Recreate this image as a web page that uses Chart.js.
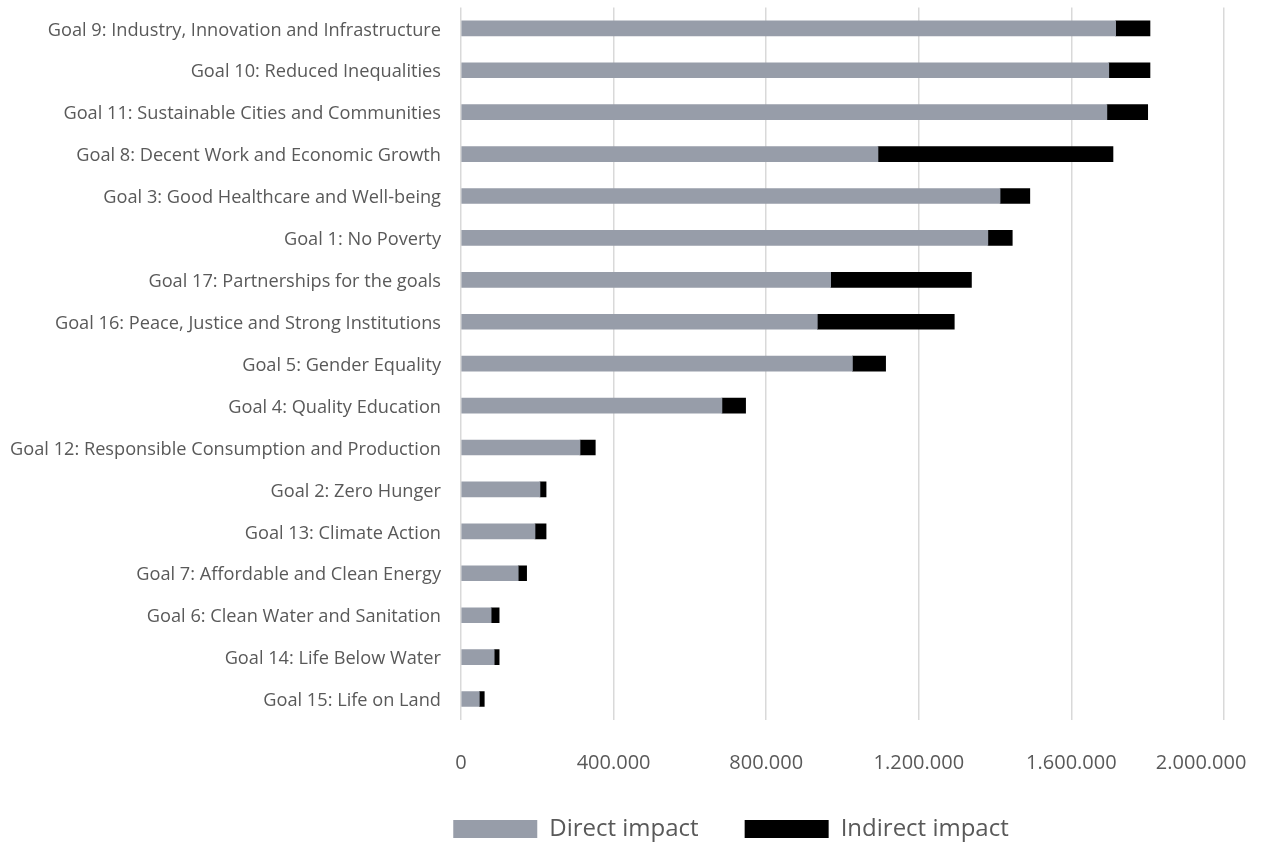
<!DOCTYPE html>
<html>
<head>
<meta charset="utf-8">
<script src="https://cdn.jsdelivr.net/npm/chart.js@4.4.0/dist/chart.umd.min.js"></script>
<style>
  html, body { margin: 0; padding: 0; background: #ffffff; overflow: hidden; }
  #wrap { width: 1268px; height: 845px; position: relative; }
</style>
</head>
<body>
<div id="wrap"><canvas id="c"></canvas></div>
<script>
const categories = [
  "Goal 9: Industry, Innovation and Infrastructure",
  "Goal 10: Reduced Inequalities",
  "Goal 11: Sustainable Cities and Communities",
  "Goal 8: Decent Work and Economic Growth",
  "Goal 3: Good Healthcare and Well-being",
  "Goal 1: No Poverty",
  "Goal 17: Partnerships for the goals",
  "Goal 16: Peace, Justice and Strong Institutions",
  "Goal 5: Gender Equality",
  "Goal 4: Quality Education",
  "Goal 12: Responsible Consumption and Production",
  "Goal 2: Zero Hunger",
  "Goal 13: Climate Action",
  "Goal 7: Affordable and Clean Energy",
  "Goal 6: Clean Water and Sanitation",
  "Goal 14: Life Below Water",
  "Goal 15: Life on Land"
];
const directImpact = [1716000, 1698000, 1693000, 1093000, 1413000, 1381000, 969000, 934000, 1026000, 684000, 312000, 207000, 194000, 150000, 79000, 87000, 48000];
const indirectImpact = [90000, 108000, 107000, 616000, 78000, 64000, 369000, 359000, 87000, 62000, 40000, 16000, 29000, 22000, 21000, 13000, 13000];
const seriesNames = ["Direct impact", "Indirect impact"];
const xTicks = { min: 0, max: 2000000, step: 400000 };

function fmt(v) {
  return String(Math.round(v)).replace(/\B(?=(\d{3})+(?!\d))/g, ".");
}

const FONT = "'Open Sans', 'Noto Sans', sans-serif";
const TXT = "#595959";

const layoutTweak = {
  id: "layoutTweak",
  afterLayout(chart) {
    const l = chart.legend;
    if (l) {
      l.left += 238;
      l.width -= 238;
      l.top += 6;
      l.bottom += 6;
    }
    const x = chart.scales.x;
    x.bottom += 12;
    x.height += 12;
  }
};

new Chart(document.getElementById("c"), {
  type: "bar",
  data: {
    labels: categories,
    datasets: [
      { label: seriesNames[0], data: directImpact, backgroundColor: "#979da9", borderWidth: 0, barThickness: 15 },
      { label: seriesNames[1], data: indirectImpact, backgroundColor: "#000000", borderWidth: 0, barThickness: 15 }
    ]
  },
  plugins: [layoutTweak],
  options: {
    indexAxis: "y",
    responsive: true,
    maintainAspectRatio: false,
    animation: false,
    layout: { padding: { left: 0, right: 44, top: 7.4, bottom: 0 } },
    scales: {
      x: {
        stacked: true,
        min: xTicks.min,
        max: xTicks.max,
        ticks: {
          stepSize: xTicks.step,
          callback: (v, i, ticks) => (i === ticks.length - 1 ? fmt(v) + "\u2007\u2007\u2007\u2007" : fmt(v)),
          color: TXT,
          font: { family: FONT, size: 20 },
          padding: 31
        },
        grid: { color: "#d9d9d9", lineWidth: 1.5, drawTicks: false },
        border: { display: false },
        afterFit: (s) => { s.paddingLeft = 0; s.paddingRight = 0; s.height = 45; }
      },
      y: {
        stacked: true,
        ticks: {
          color: TXT,
          font: { family: FONT, size: 18.2 },
          padding: 20,
          labelOffset: 2,
          autoSkip: false
        },
        grid: { display: false, drawTicks: false },
        border: { display: false },
        afterFit: (s) => { s.paddingTop = 0; s.paddingBottom = 0; s.width = 461; }
      }
    },
    plugins: {
      legend: {
        position: "bottom",
        labels: {
          color: TXT,
          font: { family: FONT, size: 24 },
          boxWidth: 84,
          boxHeight: 18,
          padding: 46
        }
      },
      tooltip: { enabled: false }
    }
  }
});
</script>
</body>
</html>
